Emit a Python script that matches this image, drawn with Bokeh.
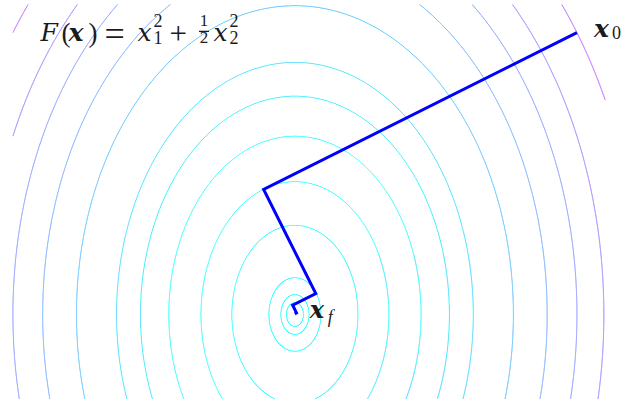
import numpy as np
from bokeh.plotting import figure
from bokeh.models import Label, BoxAnnotation, Range1d
from bokeh.embed import file_html
from bokeh.resources import INLINE

# F(x) = x1^2 + 1/2 x2^2 : contour levels drawn
levels = [0.0009, 0.0025, 0.0085, 0.05, 0.111, 0.2, 0.3, 0.4, 0.6, 0.8, 1.0, 1.2, 1.5]
# steepest-descent iterates (exact line search) from x0 = (1, 1)
path_x1 = [1.0, -0.111, 0.074, -0.008, 0.0055, -0.0006]
path_x2 = [1.0, 0.444, 0.074, 0.033, 0.0055, 0.0024]
# extent of the evaluation grid for the contours
x1_lim = [-1.0, 1.1]
x2_lim = [-0.3, 1.1]

W, H = 621, 405
INK = "#1b1b1b"
SERIF = "Liberation Serif"
LETTER = "DejaVu Serif"
LIFT = 8  # baseline correction for alphabetic text placement

p = figure(width=W, height=H, output_backend="svg", toolbar_location=None,
           x_range=Range1d(-1.044, 1.158), y_range=Range1d(-0.323, 1.114),
           min_border=0, match_aspect=False)
p.axis.visible = False
p.grid.visible = False
p.outline_line_color = None
p.background_fill_color = "white"
p.border_fill_color = "white"


def cool(v, vmax=2.1):
    t = min(max(v / vmax, 0.0), 1.0)
    return "#%02x%02x%02x" % (int(round(255 * t)), int(round(255 * (1 - t))), 255)


# contour ellipses of F, clipped to the grid extent
xs, ys, cols = [], [], []
t = np.linspace(0.0, 2.0 * np.pi, 40001)
for c in levels:
    ex = np.sqrt(c) * np.cos(t)
    ey = np.sqrt(2.0 * c) * np.sin(t)
    inside = (ex >= x1_lim[0]) & (ex <= x1_lim[1]) & (ey >= x2_lim[0]) & (ey <= x2_lim[1])
    idx = np.flatnonzero(inside)
    if idx.size == 0:
        continue
    breaks = np.flatnonzero(np.diff(idx) > 1)
    starts = np.r_[0, breaks + 1]
    ends = np.r_[breaks, idx.size - 1]
    runs = [(idx[s], idx[e]) for s, e in zip(starts, ends)]
    # join a run wrapping across t = 0
    if len(runs) > 1 and runs[0][0] == 0 and runs[-1][1] == t.size - 1:
        a, b = runs.pop()
        s0, e0 = runs.pop(0)
        seg_x = np.r_[ex[a:b + 1], ex[s0:e0 + 1]]
        seg_y = np.r_[ey[a:b + 1], ey[s0:e0 + 1]]
        xs.append(seg_x.tolist()); ys.append(seg_y.tolist()); cols.append(cool(c))
    for a, b in runs:
        xs.append(ex[a:b + 1].tolist()); ys.append(ey[a:b + 1].tolist()); cols.append(cool(c))

p.multi_line(xs=xs, ys=ys, line_color=cols, line_width=1.0)

# descent path
p.line(path_x1, path_x2, line_color="#0000ff", line_width=3, line_join="miter")


def screen_text(txt, x, y_top, size, style="normal", font=SERIF, align="left"):
    p.add_layout(Label(x=x, y=H - y_top + LIFT, x_units="screen", y_units="screen",
                       text=txt, text_font=font, text_font_size=f"{size}px",
                       text_font_style=style, text_baseline="alphabetic",
                       text_align=align, text_color=INK))


def point_text(txt, px, py, dx, dy, size, style="normal", font=SERIF):
    p.add_layout(Label(x=px, y=py, x_offset=dx, y_offset=dy + LIFT,
                       text=txt, text_font=font, text_font_size=f"{size}px",
                       text_font_style=style, text_baseline="alphabetic",
                       text_color=INK))


# formula F(x) = x1^2 + 1/2 x2^2
screen_text("F", 40, 40, 25, "italic", LETTER)
screen_text("(", 61, 40, 27)
screen_text("x", 68, 40, 25, "bold italic", LETTER)
screen_text(")", 88, 40, 27)
screen_text("=", 104, 41, 36)
screen_text("x", 137, 40, 25, "italic", LETTER)
screen_text("2", 153, 28, 18)
screen_text("1", 153, 45, 18)
screen_text("+", 169, 41, 31)
screen_text("1", 203.5, 28, 17, align="center")
p.add_layout(BoxAnnotation(left=198.5, right=208.5, top=H - 30.3, bottom=H - 31.5,
                           left_units="screen", right_units="screen",
                           top_units="screen", bottom_units="screen",
                           fill_color=INK, fill_alpha=1.0, line_color=None))
screen_text("2", 203.5, 45, 17, align="center")
screen_text("x", 213, 40, 25, "italic", LETTER)
screen_text("2", 229, 28, 18)
screen_text("2", 229, 45, 18)

# start / end labels
point_text("x", path_x1[0], path_x2[0], 17, -4, 25, "bold italic", LETTER)
point_text("0", path_x1[0], path_x2[0], 35, -8, 18)
point_text("x", path_x1[-1], path_x2[-1], 15, -4, 24, "bold italic", LETTER)
point_text("f", path_x1[-1], path_x2[-1], 33, -11, 18, "italic")

open("out.html", "w").write(file_html(p, INLINE))
